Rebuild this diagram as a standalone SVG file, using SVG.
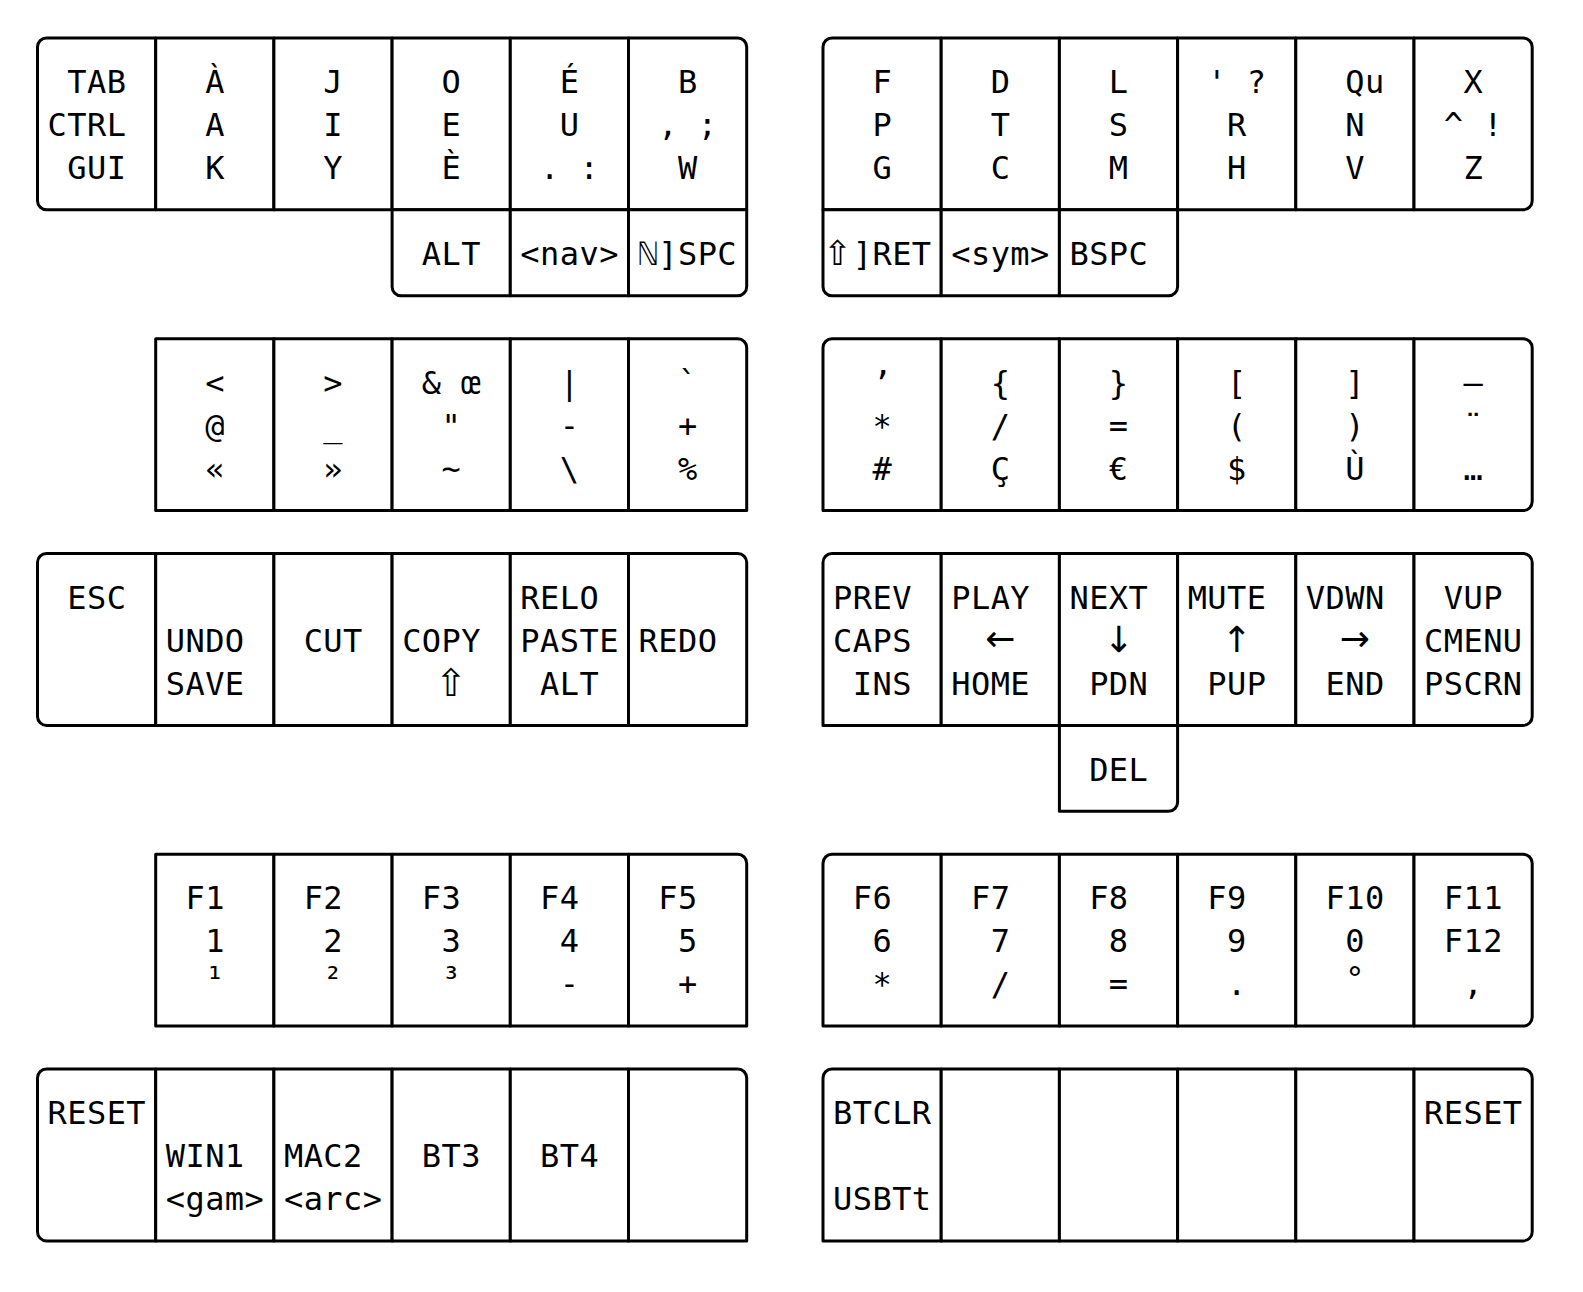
<svg xmlns="http://www.w3.org/2000/svg" width="1583" height="1292" viewBox="0 0 1583 1292">
<style>
.k{fill:#fff;stroke:#000;stroke-width:3;stroke-linejoin:round}
.t{font-family:"DejaVu Sans Mono","Liberation Mono",monospace;font-size:32px;text-anchor:middle;fill:#000}
.a{font-family:"DejaVu Sans","Noto Sans",sans-serif;font-size:36px}
.s{font-family:"DejaVu Sans","Noto Sans",sans-serif;font-size:38px}
.s2{font-family:"DejaVu Sans","Noto Sans",sans-serif;font-size:34px}
</style>
<rect width="1583" height="1292" fill="#fff"/>
<g id="layer-base">
<g id="base-L0"><path class="k" d="M46.5,38 H155.7 V209.8 H46.5 A9,9 0 0 1 37.5,200.8 V47 A9,9 0 0 1 46.5,38 Z"/><text class="t" x="76.9 96.6 116.3" y="93">TAB</text><text class="t" x="57.2 76.9 96.6 116.3" y="136">CTRL</text><text class="t" x="76.9 96.6 116.3" y="179">GUI</text></g>
<g id="base-L1"><rect class="k" x="155.7" y="38" width="118.2" height="171.8"/><text class="t" x="214.8" y="93">À</text><text class="t" x="214.8" y="136">A</text><text class="t" x="214.8" y="179">K</text></g>
<g id="base-L2"><rect class="k" x="273.9" y="38" width="118.2" height="171.8"/><text class="t" x="333" y="93">J</text><text class="t" x="333" y="136">I</text><text class="t" x="333" y="179">Y</text></g>
<g id="base-L3"><rect class="k" x="392.1" y="38" width="118.2" height="171.8"/><text class="t" x="451.2" y="93">O</text><text class="t" x="451.2" y="136">E</text><text class="t" x="451.2" y="179">È</text></g>
<g id="base-L4"><rect class="k" x="510.3" y="38" width="118.2" height="171.8"/><text class="t" x="569.4" y="93">É</text><text class="t" x="569.4" y="136">U</text><text class="t" x="549.7 569.4 589.1" y="179">. :</text></g>
<g id="base-L5"><path class="k" d="M628.5,38 H737.7 A9,9 0 0 1 746.7,47 V209.8 H628.5 Z"/><text class="t" x="687.6" y="93">B</text><text class="t" x="667.9 687.6 707.3" y="136">, ;</text><text class="t" x="687.6" y="179">W</text></g>
<g id="base-LT3"><path class="k" d="M392.1,209.8 H510.3 V295.8 H401.1 A9,9 0 0 1 392.1,286.8 Z"/><text class="t" x="431.5 451.2 470.9" y="265">ALT</text></g>
<g id="base-LT4"><rect class="k" x="510.3" y="209.8" width="118.2" height="86"/><text class="t" x="530 549.7 569.4 589.1 608.8" y="265">&lt;nav&gt;</text></g>
<g id="base-LT5"><path class="k" d="M628.5,209.8 H746.7 V286.8 A9,9 0 0 1 737.7,295.8 H628.5 Z"/><text class="t" x="648.2 667.9 687.6 707.3 727" y="265">ℕ]SPC</text></g>
<g id="base-R0"><path class="k" d="M832,38 H941.2 V209.8 H823 V47 A9,9 0 0 1 832,38 Z"/><text class="t" x="882.1" y="93">F</text><text class="t" x="882.1" y="136">P</text><text class="t" x="882.1" y="179">G</text></g>
<g id="base-R1"><rect class="k" x="941.2" y="38" width="118.2" height="171.8"/><text class="t" x="1000.3" y="93">D</text><text class="t" x="1000.3" y="136">T</text><text class="t" x="1000.3" y="179">C</text></g>
<g id="base-R2"><rect class="k" x="1059.4" y="38" width="118.2" height="171.8"/><text class="t" x="1118.5" y="93">L</text><text class="t" x="1118.5" y="136">S</text><text class="t" x="1118.5" y="179">M</text></g>
<g id="base-R3"><rect class="k" x="1177.6" y="38" width="118.2" height="171.8"/><text class="t" x="1217 1236.7 1256.4" y="93">' ?</text><text class="t" x="1236.7" y="136">R</text><text class="t" x="1236.7" y="179">H</text></g>
<g id="base-R4"><rect class="k" x="1295.8" y="38" width="118.2" height="171.8"/><text class="t" x="1354.9 1374.6" y="93">Qu</text><text class="t" x="1354.9" y="136">N</text><text class="t" x="1354.9" y="179">V</text></g>
<g id="base-R5"><path class="k" d="M1414,38 H1523.2 A9,9 0 0 1 1532.2,47 V200.8 A9,9 0 0 1 1523.2,209.8 H1414 Z"/><text class="t" x="1473.1" y="93">X</text><text class="t" x="1453.4 1473.1 1492.8" y="136">^ !</text><text class="t" x="1473.1" y="179">Z</text></g>
<g id="base-RT0"><path class="k" d="M823,209.8 H941.2 V295.8 H832 A9,9 0 0 1 823,286.8 Z"/><text class="t" x="837.5 862.4 882.1 901.8 921.5" y="265"><tspan class="s2">⇧</tspan>]RET</text></g>
<g id="base-RT1"><rect class="k" x="941.2" y="209.8" width="118.2" height="86"/><text class="t" x="960.9 980.6 1000.3 1020 1039.7" y="265">&lt;sym&gt;</text></g>
<g id="base-RT2"><path class="k" d="M1059.4,209.8 H1177.6 V286.8 A9,9 0 0 1 1168.6,295.8 H1059.4 Z"/><text class="t" x="1079.1 1098.8 1118.5 1138.2" y="265">BSPC</text></g>
</g>
<g id="layer-sym">
<g id="sym-L1"><rect class="k" x="155.7" y="338.7" width="118.2" height="171.9"/><text class="t" x="214.8" y="394">&lt;</text><text class="t" x="214.8" y="437">@</text><text class="t" x="214.8" y="480">«</text></g>
<g id="sym-L2"><rect class="k" x="273.9" y="338.7" width="118.2" height="171.9"/><text class="t" x="333" y="394">&gt;</text><text class="t" x="333" y="437">_</text><text class="t" x="333" y="480">»</text></g>
<g id="sym-L3"><rect class="k" x="392.1" y="338.7" width="118.2" height="171.9"/><text class="t" x="431.5 451.2 470.9" y="394">&amp; œ</text><text class="t" x="451.2" y="437">"</text><text class="t" x="451.2" y="480">~</text></g>
<g id="sym-L4"><rect class="k" x="510.3" y="338.7" width="118.2" height="171.9"/><text class="t" x="569.4" y="394">|</text><text class="t" x="569.4" y="437">-</text><text class="t" x="569.4" y="480">\</text></g>
<g id="sym-L5"><path class="k" d="M628.5,338.7 H737.7 A9,9 0 0 1 746.7,347.7 V510.6 H628.5 Z"/><text class="t" x="687.6" y="394">`</text><text class="t" x="687.6" y="437">+</text><text class="t" x="687.6" y="480">%</text></g>
<g id="sym-R0"><path class="k" d="M832,338.7 H941.2 V510.6 H823 V347.7 A9,9 0 0 1 832,338.7 Z"/><text class="t" x="882.1" y="394">’</text><text class="t" x="882.1" y="437">*</text><text class="t" x="882.1" y="480">#</text></g>
<g id="sym-R1"><rect class="k" x="941.2" y="338.7" width="118.2" height="171.9"/><text class="t" x="1000.3" y="394">{</text><text class="t" x="1000.3" y="437">/</text><text class="t" x="1000.3" y="480">Ç</text></g>
<g id="sym-R2"><rect class="k" x="1059.4" y="338.7" width="118.2" height="171.9"/><text class="t" x="1118.5" y="394">}</text><text class="t" x="1118.5" y="437">=</text><text class="t" x="1118.5" y="480">€</text></g>
<g id="sym-R3"><rect class="k" x="1177.6" y="338.7" width="118.2" height="171.9"/><text class="t" x="1236.7" y="394">[</text><text class="t" x="1236.7" y="437">(</text><text class="t" x="1236.7" y="480">$</text></g>
<g id="sym-R4"><rect class="k" x="1295.8" y="338.7" width="118.2" height="171.9"/><text class="t" x="1354.9" y="394">]</text><text class="t" x="1354.9" y="437">)</text><text class="t" x="1354.9" y="480">Ù</text></g>
<g id="sym-R5"><path class="k" d="M1414,338.7 H1523.2 A9,9 0 0 1 1532.2,347.7 V501.6 A9,9 0 0 1 1523.2,510.6 H1414 Z"/><text class="t" x="1473.1" y="394">—</text><text class="t" x="1473.1" y="437">¨</text><text class="t" x="1473.1" y="480">…</text></g>
</g>
<g id="layer-nav">
<g id="nav-L0"><path class="k" d="M46.5,553.5 H155.7 V725.4 H46.5 A9,9 0 0 1 37.5,716.4 V562.5 A9,9 0 0 1 46.5,553.5 Z"/><text class="t" x="76.9 96.6 116.3" y="609">ESC</text></g>
<g id="nav-L1"><rect class="k" x="155.7" y="553.5" width="118.2" height="171.9"/><text class="t" x="175.4 195.1 214.8 234.5" y="652">UNDO</text><text class="t" x="175.4 195.1 214.8 234.5" y="695">SAVE</text></g>
<g id="nav-L2"><rect class="k" x="273.9" y="553.5" width="118.2" height="171.9"/><text class="t" x="313.3 333 352.7" y="652">CUT</text></g>
<g id="nav-L3"><rect class="k" x="392.1" y="553.5" width="118.2" height="171.9"/><text class="t" x="411.8 431.5 451.2 470.9" y="652">COPY</text><text class="t s" x="451.2" y="696">⇧</text></g>
<g id="nav-L4"><rect class="k" x="510.3" y="553.5" width="118.2" height="171.9"/><text class="t" x="530 549.7 569.4 589.1" y="609">RELO</text><text class="t" x="530 549.7 569.4 589.1 608.8" y="652">PASTE</text><text class="t" x="549.7 569.4 589.1" y="695">ALT</text></g>
<g id="nav-L5"><path class="k" d="M628.5,553.5 H737.7 A9,9 0 0 1 746.7,562.5 V725.4 H628.5 Z"/><text class="t" x="648.2 667.9 687.6 707.3" y="652">REDO</text></g>
<g id="nav-R0"><path class="k" d="M832,553.5 H941.2 V725.4 H823 V562.5 A9,9 0 0 1 832,553.5 Z"/><text class="t" x="842.7 862.4 882.1 901.8" y="609">PREV</text><text class="t" x="842.7 862.4 882.1 901.8" y="652">CAPS</text><text class="t" x="862.4 882.1 901.8" y="695">INS</text></g>
<g id="nav-R1"><rect class="k" x="941.2" y="553.5" width="118.2" height="171.9"/><text class="t" x="960.9 980.6 1000.3 1020" y="609">PLAY</text><text class="t a" x="1000.3" y="651">←</text><text class="t" x="960.9 980.6 1000.3 1020" y="695">HOME</text></g>
<g id="nav-R2"><rect class="k" x="1059.4" y="553.5" width="118.2" height="171.9"/><text class="t" x="1079.1 1098.8 1118.5 1138.2" y="609">NEXT</text><text class="t a" x="1118.5" y="652">↓</text><text class="t" x="1098.8 1118.5 1138.2" y="695">PDN</text></g>
<g id="nav-R3"><rect class="k" x="1177.6" y="553.5" width="118.2" height="171.9"/><text class="t" x="1197.3 1217 1236.7 1256.4" y="609">MUTE</text><text class="t a" x="1236.7" y="652">↑</text><text class="t" x="1217 1236.7 1256.4" y="695">PUP</text></g>
<g id="nav-R4"><rect class="k" x="1295.8" y="553.5" width="118.2" height="171.9"/><text class="t" x="1315.5 1335.2 1354.9 1374.6" y="609">VDWN</text><text class="t a" x="1354.9" y="651">→</text><text class="t" x="1335.2 1354.9 1374.6" y="695">END</text></g>
<g id="nav-R5"><path class="k" d="M1414,553.5 H1523.2 A9,9 0 0 1 1532.2,562.5 V716.4 A9,9 0 0 1 1523.2,725.4 H1414 Z"/><text class="t" x="1453.4 1473.1 1492.8" y="609">VUP</text><text class="t" x="1433.7 1453.4 1473.1 1492.8 1512.5" y="652">CMENU</text><text class="t" x="1433.7 1453.4 1473.1 1492.8 1512.5" y="695">PSCRN</text></g>
<g id="nav-RT2"><path class="k" d="M1059.4,725.4 H1177.6 V802.3 A9,9 0 0 1 1168.6,811.3 H1059.4 Z"/><text class="t" x="1098.8 1118.5 1138.2" y="781">DEL</text></g>
</g>
<g id="layer-num">
<g id="num-L1"><rect class="k" x="155.7" y="854.2" width="118.2" height="171.9"/><text class="t" x="195.1 214.8" y="909">F1</text><text class="t" x="214.8" y="952">1</text><text class="t" x="214.8" y="990">¹</text></g>
<g id="num-L2"><rect class="k" x="273.9" y="854.2" width="118.2" height="171.9"/><text class="t" x="313.3 333" y="909">F2</text><text class="t" x="333" y="952">2</text><text class="t" x="333" y="990">²</text></g>
<g id="num-L3"><rect class="k" x="392.1" y="854.2" width="118.2" height="171.9"/><text class="t" x="431.5 451.2" y="909">F3</text><text class="t" x="451.2" y="952">3</text><text class="t" x="451.2" y="990">³</text></g>
<g id="num-L4"><rect class="k" x="510.3" y="854.2" width="118.2" height="171.9"/><text class="t" x="549.7 569.4" y="909">F4</text><text class="t" x="569.4" y="952">4</text><text class="t" x="569.4" y="995">-</text></g>
<g id="num-L5"><path class="k" d="M628.5,854.2 H737.7 A9,9 0 0 1 746.7,863.2 V1026.1 H628.5 Z"/><text class="t" x="667.9 687.6" y="909">F5</text><text class="t" x="687.6" y="952">5</text><text class="t" x="687.6" y="995">+</text></g>
<g id="num-R0"><path class="k" d="M832,854.2 H941.2 V1026.1 H823 V863.2 A9,9 0 0 1 832,854.2 Z"/><text class="t" x="862.4 882.1" y="909">F6</text><text class="t" x="882.1" y="952">6</text><text class="t" x="882.1" y="995">*</text></g>
<g id="num-R1"><rect class="k" x="941.2" y="854.2" width="118.2" height="171.9"/><text class="t" x="980.6 1000.3" y="909">F7</text><text class="t" x="1000.3" y="952">7</text><text class="t" x="1000.3" y="995">/</text></g>
<g id="num-R2"><rect class="k" x="1059.4" y="854.2" width="118.2" height="171.9"/><text class="t" x="1098.8 1118.5" y="909">F8</text><text class="t" x="1118.5" y="952">8</text><text class="t" x="1118.5" y="995">=</text></g>
<g id="num-R3"><rect class="k" x="1177.6" y="854.2" width="118.2" height="171.9"/><text class="t" x="1217 1236.7" y="909">F9</text><text class="t" x="1236.7" y="952">9</text><text class="t" x="1236.7" y="995">.</text></g>
<g id="num-R4"><rect class="k" x="1295.8" y="854.2" width="118.2" height="171.9"/><text class="t" x="1335.2 1354.9 1374.6" y="909">F10</text><text class="t" x="1354.9" y="952">0</text><text class="t" x="1354.9" y="990">°</text></g>
<g id="num-R5"><path class="k" d="M1414,854.2 H1523.2 A9,9 0 0 1 1532.2,863.2 V1017.1 A9,9 0 0 1 1523.2,1026.1 H1414 Z"/><text class="t" x="1453.4 1473.1 1492.8" y="909">F11</text><text class="t" x="1453.4 1473.1 1492.8" y="952">F12</text><text class="t" x="1473.1" y="995">,</text></g>
</g>
<g id="layer-sys">
<g id="sys-L0"><path class="k" d="M46.5,1069 H155.7 V1240.9 H46.5 A9,9 0 0 1 37.5,1231.9 V1078 A9,9 0 0 1 46.5,1069 Z"/><text class="t" x="57.2 76.9 96.6 116.3 136" y="1124">RESET</text></g>
<g id="sys-L1"><rect class="k" x="155.7" y="1069" width="118.2" height="171.9"/><text class="t" x="175.4 195.1 214.8 234.5" y="1167">WIN1</text><text class="t" x="175.4 195.1 214.8 234.5 254.2" y="1210">&lt;gam&gt;</text></g>
<g id="sys-L2"><rect class="k" x="273.9" y="1069" width="118.2" height="171.9"/><text class="t" x="293.6 313.3 333 352.7" y="1167">MAC2</text><text class="t" x="293.6 313.3 333 352.7 372.4" y="1210">&lt;arc&gt;</text></g>
<g id="sys-L3"><rect class="k" x="392.1" y="1069" width="118.2" height="171.9"/><text class="t" x="431.5 451.2 470.9" y="1167">BT3</text></g>
<g id="sys-L4"><rect class="k" x="510.3" y="1069" width="118.2" height="171.9"/><text class="t" x="549.7 569.4 589.1" y="1167">BT4</text></g>
<g id="sys-L5"><path class="k" d="M628.5,1069 H737.7 A9,9 0 0 1 746.7,1078 V1240.9 H628.5 Z"/></g>
<g id="sys-R0"><path class="k" d="M832,1069 H941.2 V1240.9 H823 V1078 A9,9 0 0 1 832,1069 Z"/><text class="t" x="842.7 862.4 882.1 901.8 921.5" y="1124">BTCLR</text><text class="t" x="842.7 862.4 882.1 901.8 921.5" y="1210">USBTt</text></g>
<g id="sys-R1"><rect class="k" x="941.2" y="1069" width="118.2" height="171.9"/></g>
<g id="sys-R2"><rect class="k" x="1059.4" y="1069" width="118.2" height="171.9"/></g>
<g id="sys-R3"><rect class="k" x="1177.6" y="1069" width="118.2" height="171.9"/></g>
<g id="sys-R4"><rect class="k" x="1295.8" y="1069" width="118.2" height="171.9"/></g>
<g id="sys-R5"><path class="k" d="M1414,1069 H1523.2 A9,9 0 0 1 1532.2,1078 V1231.9 A9,9 0 0 1 1523.2,1240.9 H1414 Z"/><text class="t" x="1433.7 1453.4 1473.1 1492.8 1512.5" y="1124">RESET</text></g>
</g>
</svg>
